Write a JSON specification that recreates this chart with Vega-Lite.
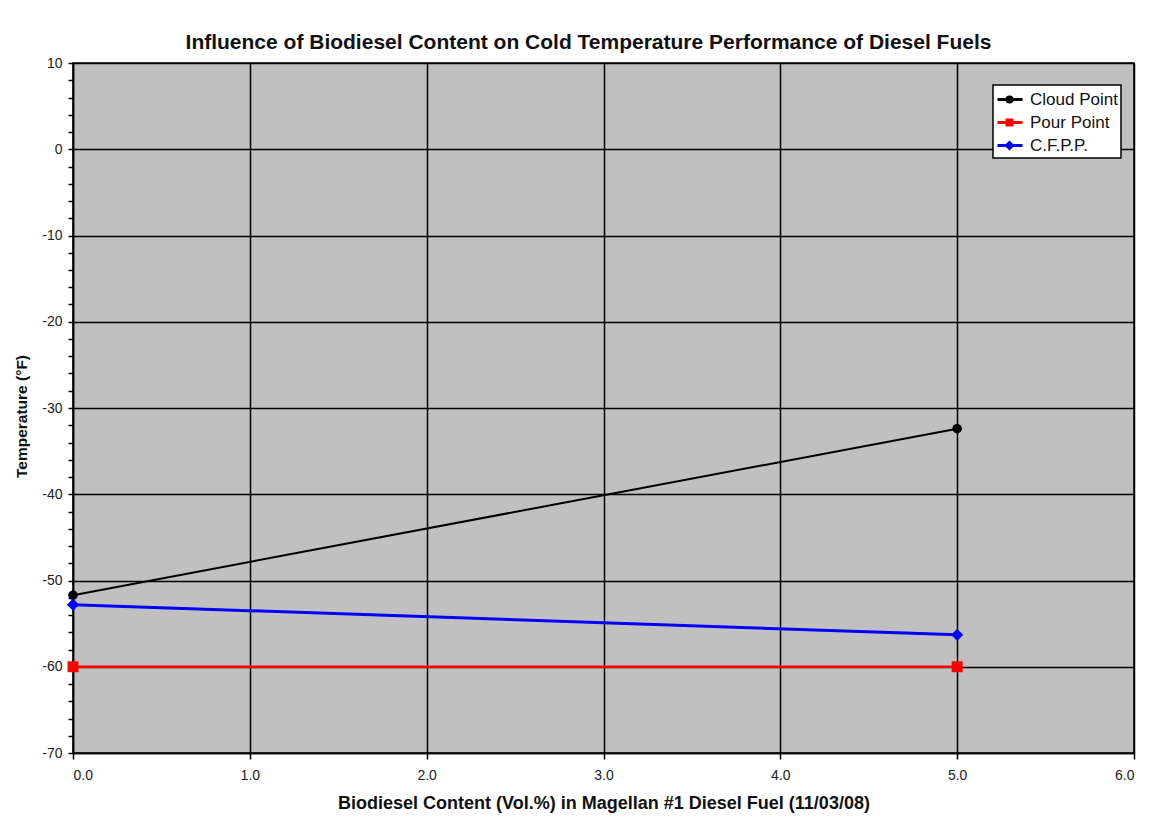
{
  "$schema": "https://vega.github.io/schema/vega-lite/v6.json",
  "autosize": "none",
  "width": 1061,
  "height": 690,
  "padding": {"left": 73, "top": 63, "right": 26, "bottom": 64},
  "background": "white",
  "config": {
    "font": "Liberation Sans",
    "view": {"fill": "#c0c0c0", "stroke": "black", "strokeWidth": 1.5},
    "legend": {
      "orient": "none",
      "legendX": 920,
      "legendY": 22,
      "fillColor": "white",
      "strokeColor": "black",
      "strokeWidth": 1.5,
      "padding": 3,
      "symbolSize": 400,
      "symbolStrokeWidth": 3,
      "symbolOpacity": 1,
      "labelFontSize": 17,
      "labelColor": "#111",
      "labelOffset": 11,
      "rowPadding": 3
    }
  },
  "title": {
    "text": "Influence of Biodiesel Content on Cold Temperature Performance of Diesel Fuels",
    "fontSize": 21,
    "fontWeight": "bold",
    "color": "#111",
    "anchor": "middle",
    "dx": -15,
    "offset": 3
  },
  "data": {
    "values": [
      {"series": "Cloud Point", "x": 0, "y": -51.7},
      {"series": "Cloud Point", "x": 5, "y": -32.4},
      {"series": "Pour Point", "x": 0, "y": -60},
      {"series": "Pour Point", "x": 5, "y": -60},
      {"series": "C.F.P.P.", "x": 0, "y": -52.8},
      {"series": "C.F.P.P.", "x": 5, "y": -56.3}
    ]
  },
  "encoding": {
    "x": {
      "field": "x", "type": "quantitative",
      "scale": {"domain": [0, 6], "nice": false},
      "axis": {
        "values": [0, 1, 2, 3, 4, 5, 6],
        "format": ".1f",
        "grid": true, "gridColor": "black", "gridWidth": 1.5, "gridOpacity": 1,
        "domainColor": "black", "domainWidth": 1.5,
        "tickColor": "black", "tickSize": 6, "tickWidth": 1.5,
        "labelFontSize": 14, "labelColor": "#222", "labelPadding": 9,
        "title": "Biodiesel Content (Vol.%) in Magellan #1 Diesel Fuel (11/03/08)",
        "titleFontSize": 18, "titleFontWeight": "bold", "titleColor": "#111", "titlePadding": 12
      }
    },
    "y": {
      "field": "y", "type": "quantitative",
      "scale": {"domain": [-70, 10], "nice": false},
      "axis": {
        "values": [-70,-68,-66,-64,-62,-60,-58,-56,-54,-52,-50,-48,-46,-44,-42,-40,-38,-36,-34,-32,-30,-28,-26,-24,-22,-20,-18,-16,-14,-12,-10,-8,-6,-4,-2,0,2,4,6,8,10],
        "labelExpr": "datum.value % 10 === 0 ? '' + datum.value : ''",
        "grid": true, "gridColor": "black", "gridWidth": 1.5,
        "gridOpacity": {"condition": {"test": "datum.value % 10 === 0", "value": 1}, "value": 0},
        "domainColor": "black", "domainWidth": 1.5,
        "tickColor": "black", "tickSize": 5, "tickWidth": 1.5,
        "labelFontSize": 14, "labelColor": "#222", "labelPadding": 6,
        "title": "Temperature (°F)",
        "titleFontSize": 15.5, "titleFontWeight": "bold", "titleColor": "#111", "titlePadding": 12,
        "titleY": 353
      }
    }
  },
  "layer": [
    {
      "mark": {"type": "line", "clip": false},
      "encoding": {
        "color": {
          "field": "series", "type": "nominal",
          "scale": {"domain": ["Cloud Point", "Pour Point", "C.F.P.P."], "range": ["#000000", "#ff0000", "#0000ff"]},
          "legend": null
        },
        "strokeWidth": {
          "field": "series", "type": "nominal",
          "scale": {"domain": ["Cloud Point", "Pour Point", "C.F.P.P."], "range": [2, 3, 2]},
          "legend": null
        }
      }
    },
    {
      "mark": {"type": "point", "filled": true, "opacity": 1, "clip": false},
      "encoding": {
        "color": {
          "field": "series", "type": "nominal",
          "scale": {"domain": ["Cloud Point", "Pour Point", "C.F.P.P."], "range": ["#000000", "#ff0000", "#0000ff"]},
          "legend": null
        },
        "shape": {
          "field": "series", "type": "nominal",
          "scale": {"domain": ["Cloud Point", "Pour Point", "C.F.P.P."], "range": ["circle", "square", "diamond"]},
          "legend": null
        },
        "size": {
          "field": "series", "type": "nominal",
          "scale": {"domain": ["Cloud Point", "Pour Point", "C.F.P.P."], "range": [90, 150, 80]},
          "legend": null
        }
      }
    },
    {
      "mark": {"type": "point", "filled": false, "opacity": 0, "clip": false},
      "encoding": {
        "color": {
          "field": "series", "type": "nominal",
          "scale": {"domain": ["Cloud Point", "Pour Point", "C.F.P.P."], "range": ["#000000", "#ff0000", "#0000ff"]},
          "legend": {"title": null}
        },
        "shape": {
          "field": "series", "type": "nominal",
          "scale": {
            "domain": ["Cloud Point", "Pour Point", "C.F.P.P."],
            "range": [
              "M-1,0L1.5,0M-0.05,0A0.25,0.25 0 1,0 0.45,0A0.25,0.25 0 1,0 -0.05,0Z",
              "M-1,0L1.5,0M-0.05,-0.25L0.45,-0.25L0.45,0.25L-0.05,0.25Z",
              "M-1,0L1.5,0M0.2,-0.3L0.5,0L0.2,0.3L-0.1,0Z"
            ]
          },
          "legend": {"title": null}
        }
      }
    }
  ],
  "resolve": {"scale": {"shape": "independent", "color": "independent"}}
}
